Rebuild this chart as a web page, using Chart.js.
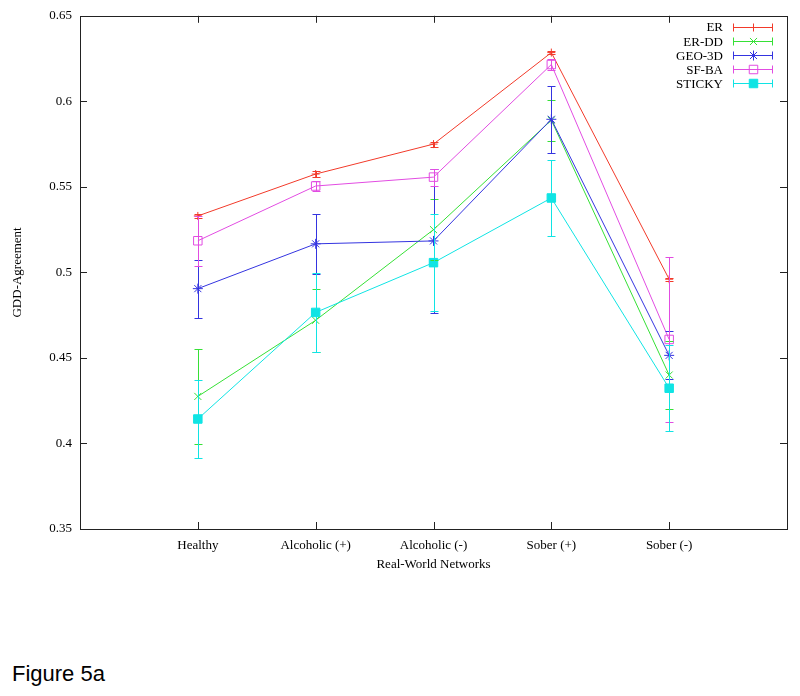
<!DOCTYPE html>
<html><head><meta charset="utf-8">
<script src="https://cdn.jsdelivr.net/npm/chart.js@4.4.1/dist/chart.umd.min.js"></script>
<style>
html,body{margin:0;padding:0;background:#fff;}
#wrap{position:absolute;left:0;top:0;width:800px;height:580px;}
#fig{position:absolute;left:12px;top:661px;font-family:"Liberation Sans",Arial,sans-serif;font-size:22px;color:#000;line-height:26px;}
</style></head><body>
<div id="wrap"><canvas id="c" width="800" height="580"></canvas></div>
<div id="fig">Figure 5a</div>
<script>
// ---- data ----
const categories = ['Healthy', 'Alcoholic (+)', 'Alcoholic (-)', 'Sober (+)', 'Sober (-)'];
const seriesNames = ['ER', 'ER-DD', 'GEO-3D', 'SF-BA', 'STICKY'];
const erValues     = [0.533, 0.5575, 0.575, 0.6285, 0.496];
const erErrors     = [0.001, 0.0015, 0.0015, 0.001, 0.0008];
const erddValues   = [0.4275, 0.472, 0.525, 0.589, 0.44];
const erddErrors   = [0.028, 0.0185, 0.018, 0.012, 0.02];
const geoValues    = [0.4905, 0.5167, 0.5184, 0.5895, 0.4515];
const geoErrors    = [0.017, 0.0175, 0.042, 0.0195, 0.014];
const sfbaValues   = [0.5185, 0.5505, 0.5557, 0.6215, 0.4608];
const sfbaErrors   = [0.0145, 0.003, 0.005, 0.003, 0.048];
const stickyValues = [0.4143, 0.4766, 0.5057, 0.5435, 0.4323];
const stickyErrors = [0.023, 0.023, 0.0285, 0.022, 0.025];
const yTickValues  = [0.35, 0.4, 0.45, 0.5, 0.55, 0.6, 0.65];

const colors = ['#f23a2a', '#36e036', '#3434e0', '#e24ce2', '#10e4e4'];
const styles = ['cross', 'crossRot', 'star', 'rect', 'rect'];
const radii  = [4, 5, 5, 6, 6];
const fills  = [false, false, false, false, true];
const values = [erValues, erddValues, geoValues, sfbaValues, stickyValues];
const errors = [erErrors, erddErrors, geoErrors, sfbaErrors, stickyErrors];

const FONT = '"Liberation Serif", "Times New Roman", serif';

const datasets = seriesNames.map((name, i) => ({
  label: name,
  data: values[i].map((v, j) => ({x: j + 1, y: v})),
  errors: errors[i],
  borderColor: colors[i],
  backgroundColor: fills[i] ? colors[i] : 'rgba(0,0,0,0)',
  pointBorderColor: colors[i],
  pointBackgroundColor: fills[i] ? colors[i] : 'rgba(0,0,0,0)',
  pointStyle: styles[i],
  pointRadius: radii[i],
  pointBorderWidth: 1,
  borderWidth: 1,
  showLine: true,
  fill: false,
  tension: 0,
  order: seriesNames.length - 1 - i
}));

function drawMarker(ctx, style, r, x, y, color, filled) {
  ctx.save();
  ctx.strokeStyle = color; ctx.fillStyle = color; ctx.lineWidth = 1;
  ctx.beginPath();
  if (style === 'cross' || style === 'star') {
    ctx.moveTo(x - r, y); ctx.lineTo(x + r, y);
    ctx.moveTo(x, y - r); ctx.lineTo(x, y + r);
  }
  if (style === 'crossRot' || style === 'star') {
    const d = r * Math.SQRT1_2;
    ctx.moveTo(x - d, y - d); ctx.lineTo(x + d, y + d);
    ctx.moveTo(x - d, y + d); ctx.lineTo(x + d, y - d);
  }
  if (style === 'rect') {
    const s = r * Math.SQRT1_2;
    ctx.rect(x - s, y - s, 2 * s, 2 * s);
    if (filled) ctx.fill();
  }
  ctx.stroke();
  ctx.restore();
}

const framePlugin = {
  id: 'frame',
  beforeDatasetsDraw(chart) {
    const {ctx, chartArea: a, scales: {x, y}} = chart;
    ctx.save();
    ctx.strokeStyle = '#222'; ctx.lineWidth = 1;
    ctx.strokeRect(Math.round(a.left) + 0.5, Math.round(a.top) + 0.5,
                   Math.round(a.right - a.left), Math.round(a.bottom - a.top));
    ctx.beginPath();
    const tl = 7;
    yTickValues.forEach(v => {
      const py = Math.round(y.getPixelForValue(v)) + 0.5;
      ctx.moveTo(a.left, py); ctx.lineTo(a.left + tl, py);
      ctx.moveTo(a.right, py); ctx.lineTo(a.right - tl, py);
    });
    categories.forEach((c, j) => {
      const px = Math.round(x.getPixelForValue(j + 1)) + 0.5;
      ctx.moveTo(px, a.bottom); ctx.lineTo(px, a.bottom - tl);
      ctx.moveTo(px, a.top); ctx.lineTo(px, a.top + tl);
    });
    ctx.stroke();
    ctx.restore();
  }
};

const errorBarPlugin = {
  id: 'errbars',
  afterDatasetsDraw(chart) {
    const {ctx, scales: {x, y}} = chart;
    ctx.save();
    ctx.lineWidth = 1;
    chart.data.datasets.forEach(ds => {
      ctx.strokeStyle = ds.borderColor;
      ctx.beginPath();
      ds.data.forEach((p, j) => {
        const e = ds.errors[j];
        const px = Math.round(x.getPixelForValue(p.x)) + 0.5;
        const y1 = Math.round(y.getPixelForValue(p.y - e)) + 0.5;
        const y2 = Math.round(y.getPixelForValue(p.y + e)) + 0.5;
        ctx.moveTo(px, y1); ctx.lineTo(px, y2);
        ctx.moveTo(px - 4, y1); ctx.lineTo(px + 4, y1);
        ctx.moveTo(px - 4, y2); ctx.lineTo(px + 4, y2);
      });
      ctx.stroke();
    });
    ctx.restore();
  }
};

const legendPlugin = {
  id: 'gpLegend',
  afterDraw(chart) {
    const {ctx} = chart;
    ctx.save();
    ctx.font = '13px ' + FONT;
    ctx.textAlign = 'right';
    ctx.textBaseline = 'middle';
    chart.data.datasets.forEach((ds, i) => {
      const ry = 27 + i * 14.1;
      ctx.fillStyle = '#000';
      ctx.fillText(ds.label, 723, ry + 1);
      ctx.strokeStyle = ds.borderColor; ctx.lineWidth = 1;
      const yy = Math.round(ry) + 0.5;
      ctx.beginPath();
      ctx.moveTo(733, yy); ctx.lineTo(773, yy);
      ctx.moveTo(733.5, yy - 4); ctx.lineTo(733.5, yy + 4);
      ctx.moveTo(772.5, yy - 4); ctx.lineTo(772.5, yy + 4);
      ctx.stroke();
      drawMarker(ctx, styles[i], radii[i], 753.5, yy, ds.borderColor, fills[i]);
    });
    ctx.restore();
  }
};

new Chart(document.getElementById('c'), {
  type: 'scatter',
  data: {datasets},
  options: {
    responsive: false,
    animation: false,
    events: [],
    layout: {padding: {left: 0, top: 14, right: 13, bottom: 0}},
    plugins: {legend: {display: false}, tooltip: {enabled: false}},
    scales: {
      x: {
        type: 'linear', min: 0, max: 6,
        grid: {display: false, drawTicks: false},
        border: {display: false},
        afterBuildTicks: s => { s.ticks = categories.map((c, j) => ({value: j + 1})); },
        afterFit: s => { s.height = 51; },
        ticks: {
          autoSkip: false, maxRotation: 0, padding: 9, color: '#000',
          font: {family: FONT, size: 13},
          callback: v => categories[v - 1]
        },
        title: {display: true, text: 'Real-World Networks', color: '#000',
                font: {family: FONT, size: 13}, padding: {top: 0, bottom: 8}}
      },
      y: {
        min: 0.35, max: 0.65,
        grid: {display: false, drawTicks: false},
        border: {display: false},
        afterBuildTicks: s => { s.ticks = yTickValues.map(v => ({value: v})); },
        afterFit: s => { s.width = 80; },
        ticks: {
          padding: 8, color: '#000',
          font: {family: FONT, size: 13},
          callback: v => String(Number(v.toFixed(2)))
        },
        title: {display: true, text: 'GDD-Agreement', color: '#000',
                font: {family: FONT, size: 13}, padding: {top: 10, bottom: 0}}
      }
    }
  },
  plugins: [framePlugin, errorBarPlugin, legendPlugin]
});
</script>
</body></html>
